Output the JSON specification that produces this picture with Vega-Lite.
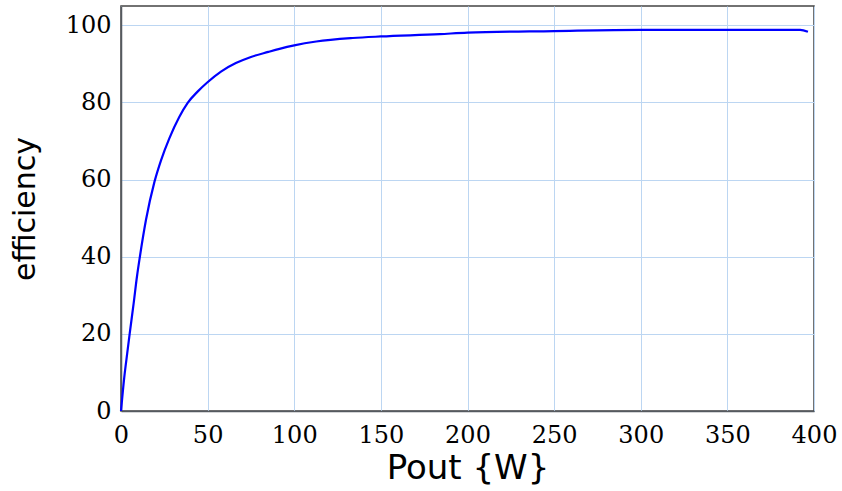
{
  "$schema": "https://vega.github.io/schema/vega-lite/v6.json",
  "width": 693,
  "height": 405,
  "autosize": "none",
  "padding": {"left": 121, "top": 6, "right": 28, "bottom": 80},
  "background": "white",
  "config": {
    "view": {"stroke": "#444444", "strokeWidth": 1.5},
    "axis": {
      "grid": true,
      "gridColor": "#bcd6f2",
      "gridWidth": 1,
      "ticks": false,
      "domainColor": "#555a60",
      "domainWidth": 1.5,
      "labelFont": "DejaVu Serif",
      "labelFontSize": 24,
      "labelColor": "#000000",
      "titleColor": "#000000",
      "titleFont": "DejaVu Sans",
      "titleFontWeight": "normal"
    }
  },
  "data": {
    "values": [
      {"Pout": 0, "efficiency": 0},
      {"Pout": 1.9, "efficiency": 8.8},
      {"Pout": 3.6, "efficiency": 15},
      {"Pout": 5.0, "efficiency": 20},
      {"Pout": 7.3, "efficiency": 27.9},
      {"Pout": 9.2, "efficiency": 34.8},
      {"Pout": 10.9, "efficiency": 40},
      {"Pout": 14.4, "efficiency": 49.5},
      {"Pout": 19.3, "efficiency": 59.4},
      {"Pout": 23.1, "efficiency": 65.0},
      {"Pout": 27.9, "efficiency": 70.7},
      {"Pout": 33.7, "efficiency": 76.3},
      {"Pout": 38.5, "efficiency": 79.9},
      {"Pout": 44.2, "efficiency": 82.8},
      {"Pout": 49.6, "efficiency": 85.1},
      {"Pout": 57.7, "efficiency": 88.0},
      {"Pout": 66.3, "efficiency": 90.2},
      {"Pout": 75, "efficiency": 91.8},
      {"Pout": 85, "efficiency": 93.1},
      {"Pout": 91.5, "efficiency": 93.9},
      {"Pout": 100, "efficiency": 94.8},
      {"Pout": 112.7, "efficiency": 95.8},
      {"Pout": 133.8, "efficiency": 96.7},
      {"Pout": 150, "efficiency": 97.1},
      {"Pout": 184, "efficiency": 97.7},
      {"Pout": 200, "efficiency": 98.1},
      {"Pout": 250, "efficiency": 98.5},
      {"Pout": 300, "efficiency": 98.8},
      {"Pout": 350, "efficiency": 98.8},
      {"Pout": 392, "efficiency": 98.8},
      {"Pout": 396.5, "efficiency": 98.3}
    ]
  },
  "mark": {"type": "line", "color": "#0000ff", "strokeWidth": 2.2, "interpolate": "monotone"},
  "encoding": {
    "x": {
      "field": "Pout",
      "type": "quantitative",
      "scale": {"domain": [0, 400], "nice": false},
      "axis": {
        "title": "Pout {W}",
        "titleFontSize": 34,
        "titlePadding": 4,
        "values": [0, 50, 100, 150, 200, 250, 300, 350, 400],
        "labelPadding": 12,
        "labelFlush": false
      }
    },
    "y": {
      "field": "efficiency",
      "type": "quantitative",
      "scale": {"domain": [0, 105], "nice": false},
      "axis": {
        "title": "efficiency",
        "titleFontSize": 30,
        "titlePadding": 25,
        "values": [0, 20, 40, 60, 80, 100],
        "labelPadding": 10
      }
    }
  }
}
